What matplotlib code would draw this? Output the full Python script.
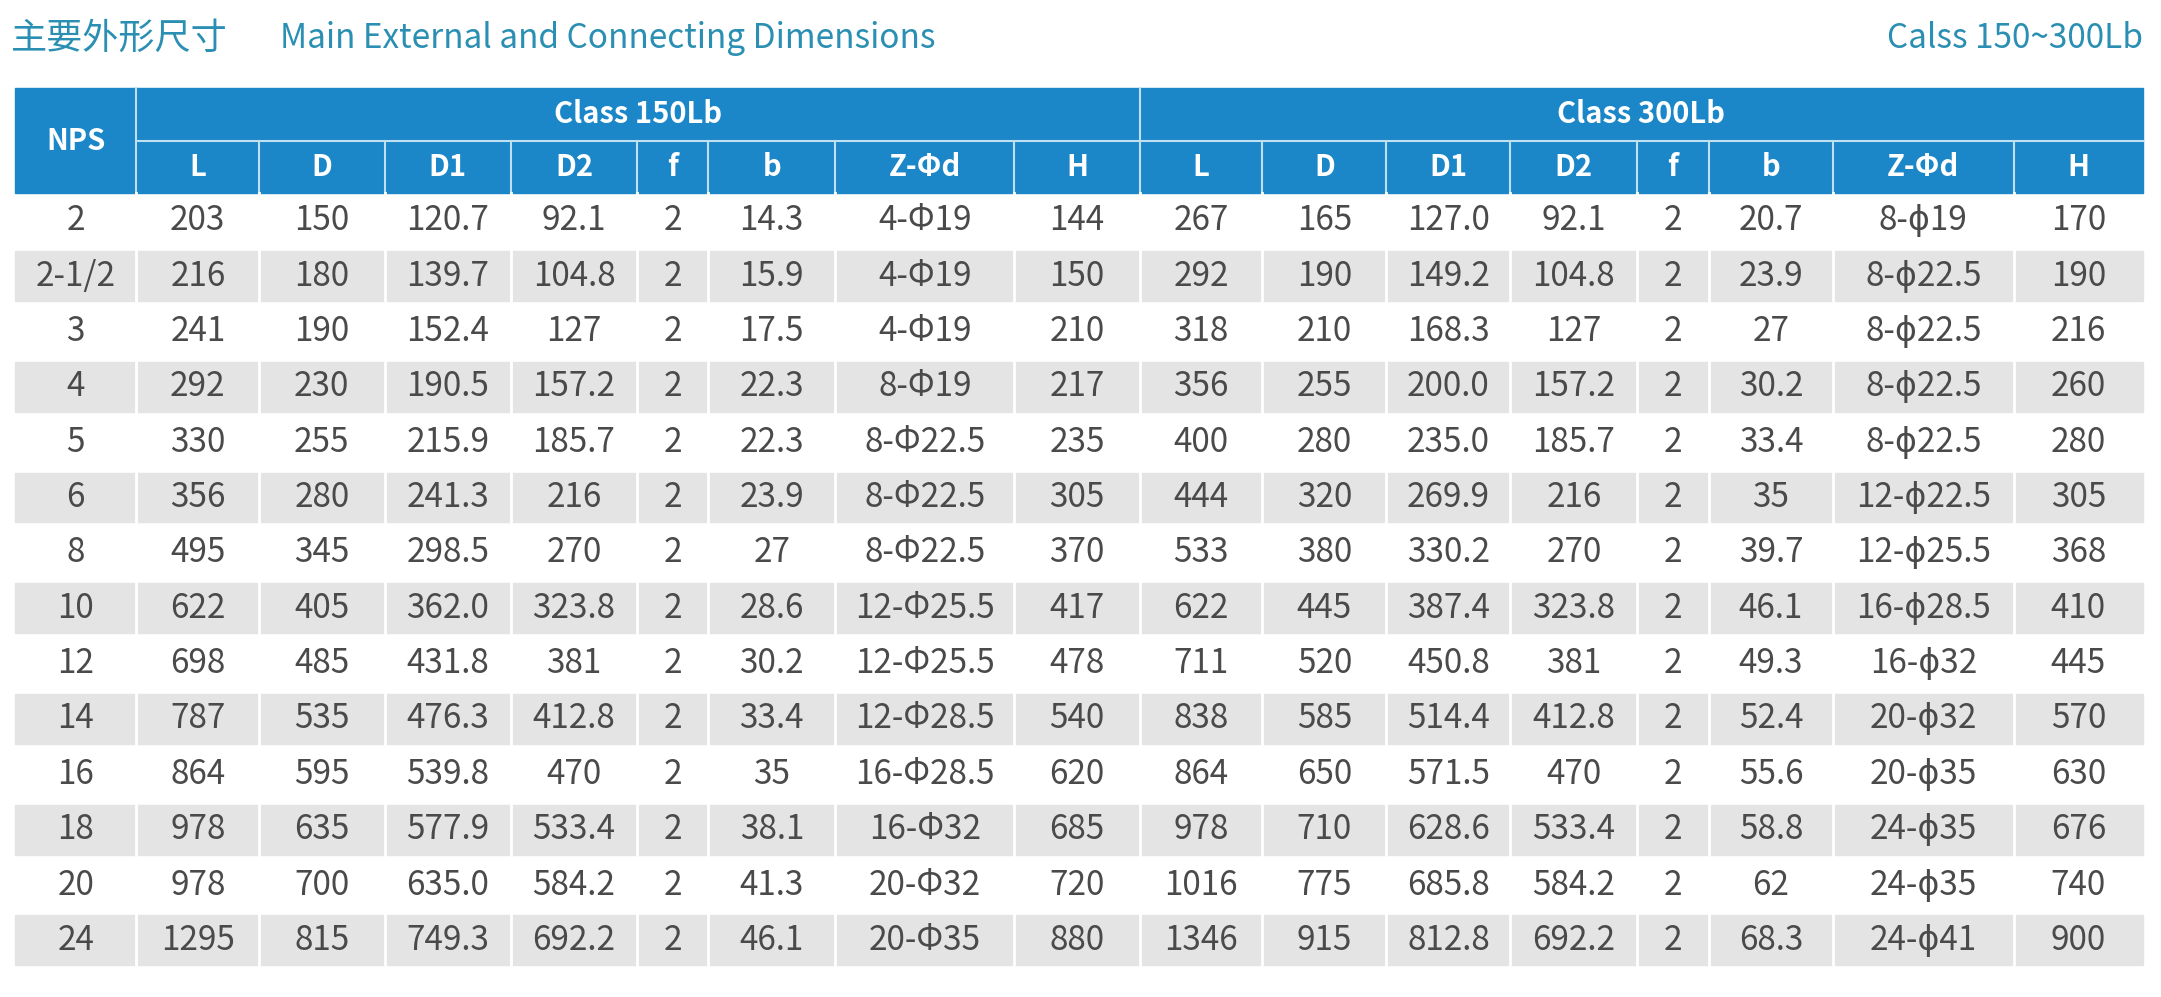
import matplotlib
matplotlib.use("Agg")
import matplotlib.pyplot as plt
from matplotlib.patches import Rectangle

plt.rcParams['font.family'] = ['Noto Sans CJK SC', 'DejaVu Sans']

title_cn = "主要外形尺寸"
title_en = "Main External and Connecting Dimensions"
subtitle = "Calss 150~300Lb"
groups = ["Class 150Lb", "Class 300Lb"]
sub_cols = ["L", "D", "D1", "D2", "f", "b", "Z-Φd", "H"]
nps = ["2", "2-1/2", "3", "4", "5", "6", "8", "10", "12", "14", "16", "18", "20", "24"]
c150 = [
    ["203", "150", "120.7", "92.1", "2", "14.3", "4-Φ19", "144"],
    ["216", "180", "139.7", "104.8", "2", "15.9", "4-Φ19", "150"],
    ["241", "190", "152.4", "127", "2", "17.5", "4-Φ19", "210"],
    ["292", "230", "190.5", "157.2", "2", "22.3", "8-Φ19", "217"],
    ["330", "255", "215.9", "185.7", "2", "22.3", "8-Φ22.5", "235"],
    ["356", "280", "241.3", "216", "2", "23.9", "8-Φ22.5", "305"],
    ["495", "345", "298.5", "270", "2", "27", "8-Φ22.5", "370"],
    ["622", "405", "362.0", "323.8", "2", "28.6", "12-Φ25.5", "417"],
    ["698", "485", "431.8", "381", "2", "30.2", "12-Φ25.5", "478"],
    ["787", "535", "476.3", "412.8", "2", "33.4", "12-Φ28.5", "540"],
    ["864", "595", "539.8", "470", "2", "35", "16-Φ28.5", "620"],
    ["978", "635", "577.9", "533.4", "2", "38.1", "16-Φ32", "685"],
    ["978", "700", "635.0", "584.2", "2", "41.3", "20-Φ32", "720"],
    ["1295", "815", "749.3", "692.2", "2", "46.1", "20-Φ35", "880"],
]
c300 = [
    ["267", "165", "127.0", "92.1", "2", "20.7", "8-ϕ19", "170"],
    ["292", "190", "149.2", "104.8", "2", "23.9", "8-ϕ22.5", "190"],
    ["318", "210", "168.3", "127", "2", "27", "8-ϕ22.5", "216"],
    ["356", "255", "200.0", "157.2", "2", "30.2", "8-ϕ22.5", "260"],
    ["400", "280", "235.0", "185.7", "2", "33.4", "8-ϕ22.5", "280"],
    ["444", "320", "269.9", "216", "2", "35", "12-ϕ22.5", "305"],
    ["533", "380", "330.2", "270", "2", "39.7", "12-ϕ25.5", "368"],
    ["622", "445", "387.4", "323.8", "2", "46.1", "16-ϕ28.5", "410"],
    ["711", "520", "450.8", "381", "2", "49.3", "16-ϕ32", "445"],
    ["838", "585", "514.4", "412.8", "2", "52.4", "20-ϕ32", "570"],
    ["864", "650", "571.5", "470", "2", "55.6", "20-ϕ35", "630"],
    ["978", "710", "628.6", "533.4", "2", "58.8", "24-ϕ35", "676"],
    ["1016", "775", "685.8", "584.2", "2", "62", "24-ϕ35", "740"],
    ["1346", "915", "812.8", "692.2", "2", "68.3", "24-ϕ41", "900"],
]

W, H = 1568, 723
edges = [11, 99, 188, 279, 371, 462, 514, 606, 736, 827,
         916, 1006, 1096, 1188, 1240, 1330, 1461, 1555]
top, h1, h2 = 64, 102, 140
rowh = (702 - h2) / len(nps)
blue = "#1b87c9"
txt = "#4a4a4a"
fs = 21

fig = plt.figure(figsize=(21.61, 9.97), dpi=100)
ax = fig.add_axes([0, 0, 1, 1])
ax.set_xlim(0, W); ax.set_ylim(H, 0); ax.axis("off")

ax.text(8, 28, title_cn, fontsize=26, color="#2a8fb2", va="center", ha="left")
ax.text(203, 28, title_en, fontsize=24, color="#2a8fb2", va="center", ha="left")
ax.text(1555, 28, subtitle, fontsize=24, color="#2a8fb2", va="center", ha="right")

ax.add_patch(Rectangle((edges[0], top), edges[-1] - edges[0], h2 - top, color=blue))
ax.plot([edges[1], edges[1]], [top, h2], color="#bfe0f3", lw=1.5)
ax.plot([edges[1], edges[-1]], [h1, h1], color="#bfe0f3", lw=1.5)
ax.plot([edges[9], edges[9]], [top, h1], color="#bfe0f3", lw=1.5)
for x in edges[2:-1]:
    ax.plot([x, x], [h1, h2], color="#bfe0f3", lw=1.5)
ax.text((edges[0] + edges[1]) / 2, (top + h2) / 2, "NPS", color="white", fontsize=fs, fontweight="bold", ha="center", va="center")
ax.text((edges[1] + edges[9]) / 2, (top + h1) / 2, groups[0], color="white", fontsize=fs, fontweight="bold", ha="center", va="center")
ax.text((edges[9] + edges[17]) / 2, (top + h1) / 2, groups[1], color="white", fontsize=fs, fontweight="bold", ha="center", va="center")
for i, c in enumerate(sub_cols * 2):
    ax.text((edges[i + 1] + edges[i + 2]) / 2, (h1 + h2) / 2, c, color="white", fontsize=fs, fontweight="bold", ha="center", va="center")

for r, n in enumerate(nps):
    y0 = h2 + r * rowh
    if r % 2 == 1:
        ax.add_patch(Rectangle((edges[0], y0 + 2), edges[-1] - edges[0], rowh - 4, color="#e4e4e4"))
    vals = [n] + c150[r] + c300[r]
    for i, v in enumerate(vals):
        ax.text((edges[i] + edges[i + 1]) / 2, y0 + rowh / 2, v, color=txt, fontsize=24, ha="center", va="center")
for x in edges[1:-1]:
    ax.plot([x, x], [h2, 702], color="white", lw=2)

fig.savefig("out.png", dpi=100, facecolor="white")
